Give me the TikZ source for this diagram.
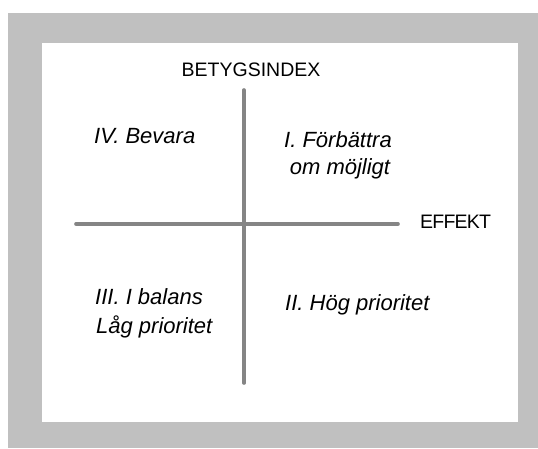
\documentclass[tikz,border=0pt]{standalone}
\usepackage{fontspec}
\setmainfont{Liberation Sans}
\begin{document}
\begin{tikzpicture}[x=1pt,y=-1pt,
  axisline/.style={draw=axisgray,line width=3.6pt,line cap=round},
  axislabel/.style={inner sep=0pt,font=\fontsize{19.5}{22}\selectfont},
  quadlabel/.style={inner sep=0pt,font=\fontsize{22}{26}\selectfont\itshape}]
\definecolor{bggray}{HTML}{C0C0C0}
\definecolor{axisgray}{HTML}{858585}
\useasboundingbox (0,0) rectangle (538,448);
\fill[bggray] (8,13) rectangle (538,448);
\fill[white] (42,43) rectangle (518,422);
% axes
\coordinate (hL) at (76,224);
\coordinate (hR) at (398,224);
\coordinate (vT) at (244,90);
\coordinate (vB) at (244,383);
\draw[axisline] (hL) -- (hR);
\draw[axisline] (vT) -- (vB);
% axis labels
\node[axislabel,anchor=base] (ylab) at (251,76) {BETYGSINDEX};
\node[axislabel,anchor=base west,font=\fontsize{19.5}{22}\selectfont\addfontfeatures{LetterSpace=-4}] (xlab) at (420,228) {EFFEKT};
% quadrant labels
\node[quadlabel,anchor=base west] (q4) at (94,143) {IV. Bevara};
\node[quadlabel,anchor=base] (q1a) at (338,147) {I. Förbättra};
\node[quadlabel,anchor=base] (q1b) at (340,174) {om möjligt};
\node[quadlabel,anchor=base west] (q3a) at (95,304) {III. I balans};
\node[quadlabel,anchor=base west] (q3b) at (96,333) {Låg prioritet};
\node[quadlabel,anchor=base west] (q2) at (285,310) {II. Hög prioritet};
\end{tikzpicture}
\end{document}
